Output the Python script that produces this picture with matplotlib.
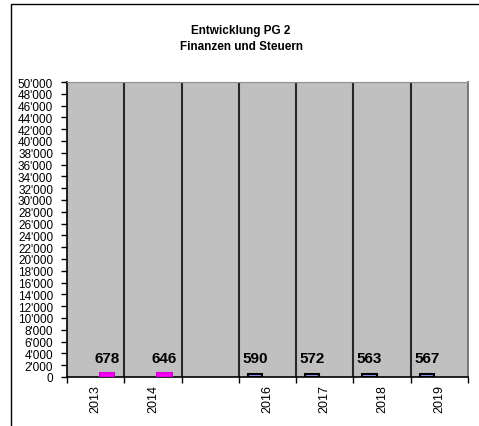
import numpy as np
import matplotlib
matplotlib.use("Agg")
import matplotlib.pyplot as plt
from matplotlib.ticker import FuncFormatter, MultipleLocator, FixedLocator
from matplotlib.patches import Rectangle

plt.rcParams['font.family'] = ['Liberation Sans', 'DejaVu Sans']

# Data
categories = ['2013', '2014', '', '2016', '2017', '2018', '2019']
series_old = [678, 646, np.nan, np.nan, np.nan, np.nan, np.nan]
series_new = [np.nan, np.nan, np.nan, 590, 572, 563, 567]
title_lines = ['Entwicklung PG 2', 'Finanzen und Steuern']
y_max = 50000
y_step = 2000

fig = plt.figure(figsize=(4.79, 4.27), dpi=100)
fig.patch.set_facecolor('white')

# Chart frame (extends past the canvas on the right and bottom)
fig.patches.append(Rectangle((11 / 479, -0.1), 1.2, (427 - 5) / 427 + 0.1,
                             transform=fig.transFigure, fill=False,
                             edgecolor='black', linewidth=1.0))

ax = fig.add_axes([67 / 479, 49 / 427, 401 / 479, 295 / 427])
ax.set_facecolor('#C0C0C0')

x = np.arange(len(categories))
width = 0.25
ax.bar(x + 0.2, series_old, width, color='#FF00FF', edgecolor='#DD00DD',
       linewidth=1.5, zorder=3)
ax.bar(x - 0.22, series_new, width, color='#9999FF', edgecolor='black',
       linewidth=1.5, zorder=3)

# Value labels
label_kw = dict(textcoords='offset points', ha='center', va='bottom',
                fontsize=11, fontweight='bold', zorder=4)
for xi, v in zip(x, series_old):
    if not np.isnan(v):
        ax.annotate(f'{int(v)}', (xi + 0.2, v), xytext=(0, 6), **label_kw)
for xi, v in zip(x, series_new):
    if not np.isnan(v):
        ax.annotate(f'{int(v)}', (xi - 0.22, v), xytext=(0, 6), **label_kw)

# Category separators
for b in np.arange(0.5, len(categories) - 0.5, 1.0):
    ax.axvline(b, color='#282828', linewidth=1.5, zorder=2)

ax.set_xlim(-0.5, len(categories) - 0.5)
ax.set_ylim(0, y_max)

ax.yaxis.set_major_locator(MultipleLocator(y_step))
ax.yaxis.set_major_formatter(FuncFormatter(lambda v, p: f"{int(v):,}".replace(',', "'")))
ax.tick_params(axis='y', direction='out', length=4, width=1, labelsize=8.5, pad=6)

ax.set_xticks(x)
ax.set_xticklabels(categories, rotation=90, fontsize=9)
ax.tick_params(axis='x', which='major', length=0, pad=5)
ax.xaxis.set_minor_locator(FixedLocator(np.arange(-0.5, len(categories), 1.0)))
ax.tick_params(axis='x', which='minor', direction='out', length=4, width=1)

for s in ['left', 'bottom']:
    ax.spines[s].set_color('black')
    ax.spines[s].set_linewidth(1.2)
ax.spines['top'].set_color('#909090')
ax.spines['right'].set_color('#707070')
ax.spines['right'].set_linewidth(1.3)

fig.text(241 / 479, 1 - 31 / 427, title_lines[0], ha='center', va='center',
         fontsize=8.5, fontweight='bold')
fig.text(241 / 479, 1 - 47 / 427, title_lines[1], ha='center', va='center',
         fontsize=8.5, fontweight='bold')

fig.savefig('out.png', dpi=100, facecolor='white')
